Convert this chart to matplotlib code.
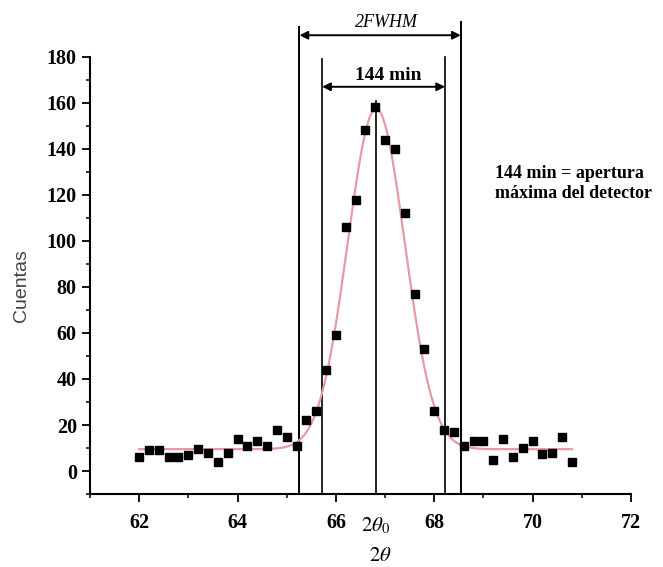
import numpy as np
import matplotlib
matplotlib.use("Agg")
import matplotlib.pyplot as plt
from matplotlib.ticker import MultipleLocator

plt.rcParams["mathtext.fontset"] = "stix"

# measured counts, 2-theta step 0.2 deg
two_theta = [62.0, 62.2, 62.4, 62.6, 62.8, 63.0, 63.2, 63.4, 63.6, 63.8,
             64.0, 64.2, 64.4, 64.6, 64.8, 65.0, 65.2, 65.4, 65.6, 65.8,
             66.0, 66.2, 66.4, 66.6, 66.8, 67.0, 67.2, 67.4, 67.6, 67.8,
             68.0, 68.2, 68.4, 68.6, 68.8, 69.0, 69.2, 69.4, 69.6, 69.8,
             70.0, 70.2, 70.4, 70.6, 70.8]
counts = [6, 9, 9, 6, 6, 7, 9.5, 8, 4, 8,
          14, 11, 13, 11, 18, 15, 11, 22, 26, 44,
          59, 106, 118, 148, 158, 144, 140, 112, 77, 53,
          26, 18, 17, 11, 13, 13, 5, 14, 6, 10,
          13, 7.5, 8, 15, 4]

# gaussian fit: baseline, amplitude, centre, sigma
fit_y0, fit_amp, fit_xc, fit_sigma = 9.5, 148.0, 66.82, 0.58

# reference lines (deg)
fwhm2_edges = [65.26, 68.54]
aperture_edges = [65.72, 68.22]
peak_pos = 66.82

fig = plt.figure(figsize=(6.63, 5.67), dpi=100)
ax = fig.add_axes([0.1357, 0.1287, 0.816, 0.771])

xf = np.linspace(two_theta[0], two_theta[-1], 400)
yf = fit_y0 + fit_amp * np.exp(-(xf - fit_xc) ** 2 / (2 * fit_sigma ** 2))
ax.plot(xf, yf, color="#e89aa4", lw=1.6, zorder=2)
ax.plot(two_theta, counts, "s", color="black", ms=6.3, zorder=3)

# vertical markers
for x, top in zip(fwhm2_edges, [193, 195]):
    ax.plot([x, x], [-10, top], color="black", lw=1.4, clip_on=False, zorder=1)
for x, top in zip(aperture_edges, [179, 180]):
    ax.plot([x, x], [-10, top], color="black", lw=1.2, clip_on=False, zorder=1)
ax.plot([peak_pos, peak_pos], [-10, 161], color="black", lw=1.2, clip_on=False, zorder=1)

arrow = dict(arrowstyle="<|-|>", color="black", lw=1.4, mutation_scale=12,
             shrinkA=0, shrinkB=0)
ax.annotate("", xy=(fwhm2_edges[0], 189.4), xytext=(fwhm2_edges[1], 189.4),
            arrowprops=arrow, annotation_clip=False)
ax.annotate("", xy=(aperture_edges[0], 167), xytext=(aperture_edges[1], 167),
            arrowprops=arrow, annotation_clip=False)
ax.text(67.03, 195, "2FWHM", ha="center", va="center", family="Liberation Serif",
        style="italic", fontsize=13, clip_on=False)
ax.text(67.07, 172, "144 min", ha="center", va="center", family="Liberation Serif",
        weight="bold", fontsize=14, clip_on=False)

ax.set_xlim(61, 72)
ax.set_ylim(-10, 180)
ax.xaxis.set_major_locator(MultipleLocator(2))
ax.xaxis.set_minor_locator(MultipleLocator(1))
ax.yaxis.set_major_locator(MultipleLocator(20))
ax.yaxis.set_minor_locator(MultipleLocator(10))
ax.set_xticks([62, 64, 66, 68, 70, 72])
ax.set_yticks(range(0, 181, 20))
for side in ["top", "right"]:
    ax.spines[side].set_visible(False)
for side in ["left", "bottom"]:
    ax.spines[side].set_linewidth(1.5)
ax.tick_params(which="major", direction="out", length=6, width=1.3)
ax.tick_params(which="minor", direction="out", length=3, width=1.1)
ax.tick_params(axis="x", pad=8)
for lab in ax.get_xticklabels() + ax.get_yticklabels():
    lab.set_family("Liberation Serif")
    lab.set_weight("bold")
    lab.set_fontsize(14.5)

ax.text(peak_pos, -0.072, r"$\mathit{2\theta_0}$", transform=ax.get_xaxis_transform(),
        ha="center", va="center", fontsize=15, clip_on=False)

fig.text(0.032, 0.496, "Cuentas", rotation=90, ha="center", va="center",
         family="Liberation Sans", fontsize=14, color="#444444")
fig.text(0.573, 0.004, r"$\mathit{2\theta}$", ha="center", va="bottom", fontsize=15)
fig.text(0.747, 0.677, "144 min = apertura\nmáxima del detector", ha="left",
         va="center", family="Liberation Serif", weight="bold", fontsize=13,
         linespacing=1.25)

fig.savefig("out.png", dpi=100)
